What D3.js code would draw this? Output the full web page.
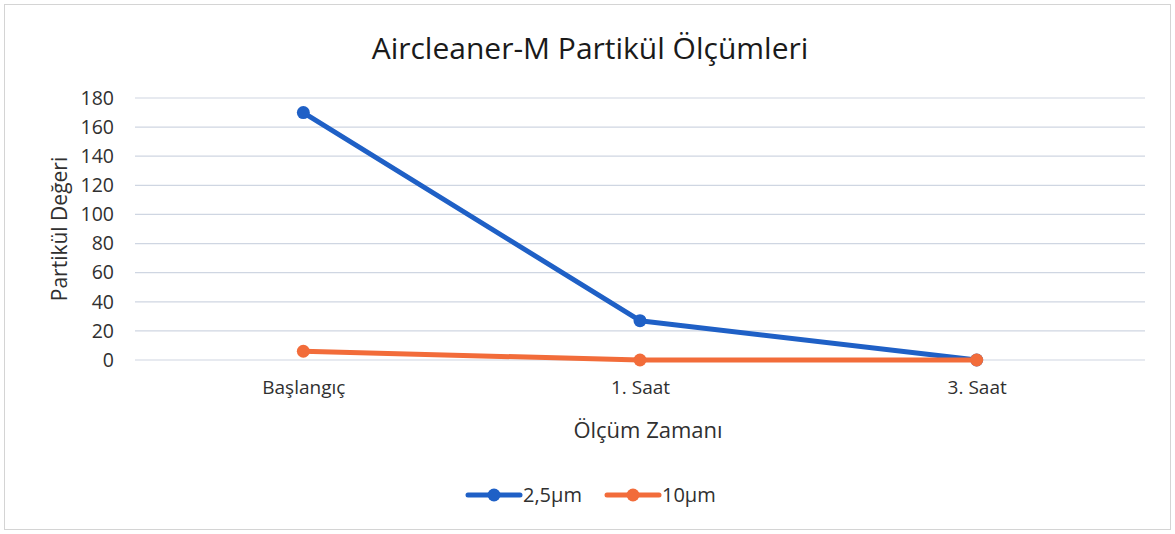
<!DOCTYPE html>
<html>
<head>
<meta charset="utf-8">
<script src="https://cdn.jsdelivr.net/npm/d3@7"></script>
<style>
  body { margin: 0; background: #fff; }
  svg { font-family: "Open Sans", "Noto Sans", sans-serif; }
</style>
</head>
<body>
<div id="chart"></div>
<script>
// chart data
const categories = ["Başlangıç", "1. Saat", "3. Saat"];
const pm25 = [170, 27, 0];
const pm10 = [6, 0, 0];
const seriesNames = ["2,5µm", "10µm"];
const yTicks = [0, 20, 40, 60, 80, 100, 120, 140, 160, 180];

const width = 1175;
const height = 534;
const margin = {top: 98, right: 30, bottom: 174, left: 135};

const svg = d3.select("#chart")
      .append("svg")
      .attr("width", width)
      .attr("height", height);

// outer frame
svg.append("rect")
    .attr("x", 4.5).attr("y", 4.5)
    .attr("width", width - 9).attr("height", height - 9)
    .attr("fill", "#fff")
    .attr("stroke", "#d4d4d4");

const x = d3.scalePoint()
    .domain(categories)
    .range([margin.left, width - margin.right])
    .padding(0.5);

const y = d3.scaleLinear()
    .domain([0, 180])
    .range([height - margin.bottom, margin.top]);

// gridlines
svg.append("g")
    .selectAll("line")
    .data(yTicks)
    .enter().append("line")
    .attr("x1", margin.left)
    .attr("x2", width - margin.right)
    .attr("y1", d => y(d))
    .attr("y2", d => y(d))
    .attr("stroke", "#cfd6e2")
    .attr("stroke-width", 1.2);

// y axis labels
const yAxis = svg.append("g")
    .attr("transform", `translate(${margin.left - 21},0)`)
    .call(d3.axisLeft(y).tickValues(yTicks).tickSize(0).tickPadding(0));
yAxis.select(".domain").remove();
yAxis.selectAll("text")
    .attr("font-size", 19.5)
    .attr("fill", "#303030")
    .attr("font-family", "'Open Sans', sans-serif");

// x axis labels
const xAxis = svg.append("g")
    .attr("transform", `translate(0,${y(0) + 20})`)
    .call(d3.axisBottom(x).tickSize(0).tickPadding(0));
xAxis.select(".domain").remove();
xAxis.selectAll("text")
    .attr("font-size", 19)
    .attr("fill", "#303030")
    .attr("font-family", "'Open Sans', sans-serif");

// titles
svg.append("text")
    .attr("x", 590).attr("y", 59)
    .attr("text-anchor", "middle")
    .attr("font-size", 30)
    .attr("fill", "#1a1a1a")
    .text("Aircleaner-M Partikül Ölçümleri");

svg.append("text")
    .attr("transform", `translate(67,${(y(0) + y(180)) / 2}) rotate(-90)`)
    .attr("text-anchor", "middle")
    .attr("font-size", 21)
    .attr("fill", "#303030")
    .text("Partikül Değeri");

svg.append("text")
    .attr("x", x("1. Saat") + 8).attr("y", 438)
    .attr("text-anchor", "middle")
    .attr("font-size", 22)
    .attr("fill", "#303030")
    .text("Ölçüm Zamanı");

// series
const series = [
    {name: seriesNames[0], values: pm25, color: "#1f60c6"},
    {name: seriesNames[1], values: pm10, color: "#f26c3a"}
];

const line = d3.line()
    .x((d, i) => x(categories[i]))
    .y(d => y(d));

series.forEach(s => {
    svg.append("path")
        .datum(s.values)
        .attr("d", line)
        .attr("fill", "none")
        .attr("stroke", s.color)
        .attr("stroke-width", 5)
        .attr("stroke-linejoin", "round")
        .attr("stroke-linecap", "round");
    svg.append("g")
        .selectAll("circle")
        .data(s.values)
        .enter().append("circle")
        .attr("cx", (d, i) => x(categories[i]))
        .attr("cy", d => y(d))
        .attr("r", 6.5)
        .attr("fill", s.color);
});

// legend
const legend = svg.append("g").attr("transform", "translate(0,495)");
const legendX = [468, 607];
series.forEach((s, i) => {
    const g = legend.append("g").attr("transform", `translate(${legendX[i]},0)`);
    g.append("line")
        .attr("x1", 0).attr("x2", 52)
        .attr("stroke", s.color)
        .attr("stroke-width", 5)
        .attr("stroke-linecap", "round");
    g.append("circle")
        .attr("cx", 26).attr("r", 6.5)
        .attr("fill", s.color);
    g.append("text")
        .attr("x", 55).attr("y", 7)
        .attr("font-size", 20)
        .attr("fill", "#303030")
        .text(s.name);
});
</script>
</body>
</html>
